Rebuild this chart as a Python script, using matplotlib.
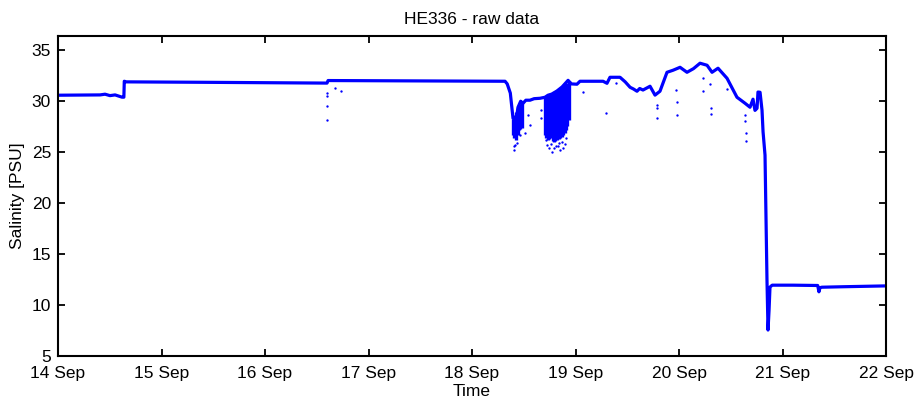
import numpy as np
import matplotlib
matplotlib.use("Agg")
import matplotlib.pyplot as plt

plt.rcParams['font.family'] = ['Liberation Sans', 'DejaVu Sans']

# main salinity trace (day of September, PSU)
line_day = [14.000, 14.406, 14.454, 14.502, 14.551, 14.618, 14.636,
            14.640, 14.660, 15.372, 16.599,
            16.609, 18.319, 18.340, 18.370, 18.396, 18.425, 18.444,
            18.470, 18.493, 18.520, 18.560, 18.600, 18.657, 18.705, 18.734,
            18.770, 18.820, 18.870, 18.928, 18.960, 19.014, 19.043, 19.150,
            19.266, 19.304, 19.333, 19.430, 19.480, 19.527, 19.560, 19.594,
            19.620, 19.652,
            19.720, 19.768, 19.816, 19.884, 19.942, 20.010, 20.077, 20.140,
            20.203, 20.271, 20.319, 20.377, 20.464, 20.560, 20.638, 20.686,
            20.715, 20.734, 20.754, 20.763, 20.783, 20.802, 20.812, 20.831,
            20.850, 20.860, 20.870, 20.879, 20.900, 21.100, 21.340, 21.352,
            21.362, 21.380, 21.600, 22.000]
line_sal = [30.59, 30.62, 30.69, 30.55, 30.62, 30.40, 30.40,
            31.96, 31.90, 31.86, 31.78,
            32.03, 31.96, 31.70, 30.80, 28.33, 28.10, 29.40,
            30.00, 29.80, 30.10, 30.10, 30.25, 30.29, 30.39, 30.59,
            30.70, 31.00, 31.40, 32.05, 31.70, 31.67, 31.96, 31.96,
            31.96, 31.76, 32.35, 32.35, 31.90, 31.37, 31.20, 30.98,
            31.25, 31.10,
            31.47, 30.60, 30.98, 32.84, 33.04, 33.33, 32.84, 33.20,
            33.73, 33.53, 32.84, 33.24, 32.25, 30.39, 29.80, 29.41,
            30.20, 29.10, 29.31, 30.90, 30.88, 29.12, 27.00, 24.71,
            12.45, 7.55, 9.50, 11.76, 11.95, 11.95, 11.92, 11.30,
            11.70, 11.75, 11.80, 11.88]

# isolated spikes / outliers
dot_day = [16.599, 16.599, 16.599, 16.599, 16.676, 16.734,
           19.072, 19.295, 19.391, 19.787, 19.787, 19.787, 19.971, 19.981,
           19.981, 20.232, 20.232, 20.300, 20.309, 20.309, 20.464, 20.638,
           20.638, 20.647, 20.647,
           18.406, 18.406, 18.435, 18.464, 18.512, 18.560, 18.541, 18.420,
           18.744, 18.773, 18.812, 18.850, 18.879, 18.899, 18.841, 18.725,
           18.667, 18.667, 18.790, 18.760, 18.830, 18.870, 18.715, 18.905]
dot_sal = [28.14, 29.51, 30.78, 30.49, 31.27, 30.98,
           30.88, 28.82, 31.76, 29.61, 29.31, 28.33, 31.08, 29.90,
           28.63, 32.25, 30.98, 31.67, 29.31, 28.73, 31.18, 28.63,
           28.04, 26.86, 26.08,
           25.20, 25.59, 25.88, 26.67, 26.86, 27.65, 28.63, 25.75,
           25.39, 25.00, 25.59, 25.20, 25.39, 25.78, 25.88, 25.69,
           28.33, 29.12, 25.45, 25.80, 25.60, 26.00, 26.20, 26.40]

# dense scatter clouds: (day, upper, lower)
cloud_day = [18.396, 18.410, 18.425, 18.440, 18.454, 18.468, 18.483,
             18.705, 18.719, 18.734, 18.748, 18.763, 18.778, 18.792, 18.806,
             18.821, 18.836, 18.850, 18.865, 18.879, 18.894, 18.908, 18.922,
             18.937]
cloud_top = [28.3, 28.6, 28.9, 29.3, 29.6, 29.7, 29.8,
             30.39, 30.5, 30.59, 30.65, 30.69, 30.8, 30.88, 31.0,
             31.08, 31.2, 31.27, 31.4, 31.47, 31.6, 31.67, 31.8,
             31.96]
cloud_bot = [26.67, 26.4, 26.18, 26.7, 27.16, 27.3, 27.35,
             26.67, 26.4, 26.18, 26.3, 26.37, 26.1, 25.98, 26.1,
             26.18, 26.3, 26.37, 26.5, 26.67, 26.9, 27.16, 27.6,
             28.14]

xtick_days = [14, 15, 16, 17, 18, 19, 20, 21, 22]
xtick_labels = ['14 Sep', '15 Sep', '16 Sep', '17 Sep', '18 Sep',
                '19 Sep', '20 Sep', '21 Sep', '22 Sep']
ytick_vals = [5, 10, 15, 20, 25, 30, 35]

blue = '#0000ff'
fs = 12.5
fig = plt.figure(figsize=(9.17, 4.01), dpi=100)
ax = fig.add_axes([0.0633, 0.1122, 0.9029, 0.798])

ax.vlines(cloud_day, cloud_bot, cloud_top, color=blue, lw=2.4)
ax.plot(line_day, line_sal, color=blue, lw=2.3, solid_joinstyle='round')
ax.plot(dot_day, dot_sal, '.', color=blue, ms=3.4, mew=0)

ax.set_xlim(14, 22)
ax.set_ylim(5, 36.4)
ax.set_xticks(xtick_days)
ax.set_xticklabels(xtick_labels)
ax.set_yticks(ytick_vals)
ax.tick_params(direction='in', length=5, width=1.3, top=True, right=True,
               labelsize=fs, colors='black')
ax.tick_params(axis='x', pad=7)
ax.tick_params(axis='y', pad=5)
for s in ax.spines.values():
    s.set_linewidth(1.5)

ax.set_xlabel('Time', fontsize=fs, labelpad=2)
ax.set_ylabel('Salinity [PSU]', fontsize=fs, labelpad=5)
ax.set_title('HE336 - raw data', fontsize=fs, pad=9)

fig.savefig('out.png', dpi=100)
